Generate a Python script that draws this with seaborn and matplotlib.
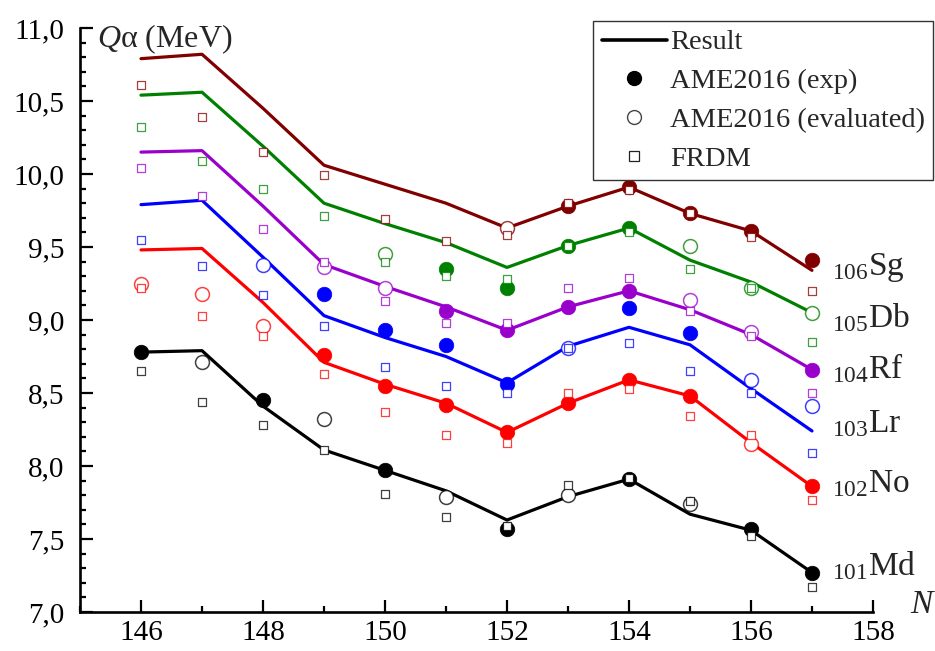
import numpy as np
import pandas as pd
import matplotlib
matplotlib.use('Agg')
import matplotlib.pyplot as plt
from matplotlib.lines import Line2D
from matplotlib.ticker import MultipleLocator, FuncFormatter
import seaborn as sns

# neutron numbers
N = list(range(146, 158))
elements = ['Md', 'No', 'Lr', 'Rf', 'Db', 'Sg']
Z = [101, 102, 103, 104, 105, 106]
colors = ['#000000', '#ff0000', '#0000ff', '#9900cc', '#008000', '#800000']

nan = np.nan
# Q-alpha (MeV), calculated result
result = {
    'Md': [8.78, 8.79, 8.41, 8.11, 7.97, 7.83, 7.63, 7.79, 7.91, 7.67, 7.56, 7.27],
    'No': [9.48, 9.49, 9.12, 8.71, 8.56, 8.43, 8.23, 8.43, 8.59, 8.48, 8.16, 7.86],
    'Lr': [9.79, 9.82, 9.43, 9.03, 8.88, 8.75, 8.57, 8.82, 8.95, 8.83, 8.53, 8.24],
    'Rf': [10.15, 10.16, 9.78, 9.38, 9.23, 9.09, 8.93, 9.09, 9.20, 9.07, 8.90, 8.66],
    'Db': [10.54, 10.56, 10.19, 9.80, 9.66, 9.53, 9.36, 9.51, 9.63, 9.41, 9.26, 9.05],
    'Sg': [10.79, 10.82, 10.45, 10.06, 9.93, 9.80, 9.63, 9.78, 9.91, 9.73, 9.61, 9.34],
}
# AME2016 experimental
exp = {
    'Md': [8.78, nan, 8.45, nan, 7.97, nan, 7.57, nan, 7.91, nan, 7.57, 7.27],
    'No': [nan, nan, nan, 8.76, 8.55, 8.42, 8.23, 8.43, 8.59, 8.48, nan, 7.86],
    'Lr': [nan, nan, nan, 9.18, 8.93, 8.83, 8.56, nan, 9.08, 8.91, nan, nan],
    'Rf': [nan, nan, nan, nan, nan, 9.06, 8.93, 9.09, 9.20, nan, nan, 8.66],
    'Db': [nan, nan, nan, nan, nan, 9.35, 9.22, 9.51, 9.63, nan, nan, nan],
    'Sg': [nan, nan, nan, nan, nan, nan, nan, 9.78, 9.91, 9.73, 9.61, 9.41],
}
# AME2016 evaluated
evaluated = {
    'Md': [nan, 8.71, nan, 8.32, nan, 7.79, nan, 7.80, nan, 7.74, nan, nan],
    'No': [9.25, 9.18, 8.96, nan, nan, nan, nan, nan, nan, nan, 8.15, nan],
    'Lr': [nan, nan, 9.38, nan, nan, nan, nan, 8.81, nan, nan, 8.59, 8.41],
    'Rf': [nan, nan, nan, 9.36, 9.22, nan, nan, nan, nan, 9.14, 8.92, nan],
    'Db': [nan, nan, nan, nan, 9.45, nan, nan, nan, nan, 9.51, 9.22, 9.05],
    'Sg': [nan, nan, nan, nan, nan, nan, 9.63, nan, nan, nan, nan, nan],
}
# FRDM
frdm = {
    'Md': [8.65, 8.44, 8.28, 8.11, 7.81, 7.65, 7.59, 7.87, 7.92, 7.76, 7.52, 7.17],
    'No': [9.22, 9.03, 8.89, 8.63, 8.37, 8.21, 8.16, 8.50, 8.53, 8.34, 8.21, 7.77],
    'Lr': [9.55, 9.37, 9.17, 8.96, 8.68, 8.55, 8.50, 8.81, 8.84, 8.65, 8.50, 8.09],
    'Rf': [10.04, 9.85, 9.62, 9.40, 9.13, 8.98, 8.98, 9.22, 9.29, 9.06, 8.89, 8.50],
    'Db': [10.32, 10.09, 9.90, 9.71, 9.40, 9.30, 9.28, 9.51, 9.60, 9.35, 9.22, 8.85],
    'Sg': [10.61, 10.39, 10.15, 9.99, 9.69, 9.54, 9.58, 9.80, 9.89, 9.73, 9.57, 9.20],
}
# baseline heights of the element labels
label_y = [7.25, 7.82, 8.23, 8.60, 8.95, 9.31]

sns.set_style('white')
plt.rcParams['font.family'] = ['Liberation Serif', 'DejaVu Serif']
plt.rcParams['mathtext.fontset'] = 'custom'
plt.rcParams['mathtext.rm'] = 'Liberation Serif'
plt.rcParams['mathtext.it'] = 'Liberation Serif:italic'

fig = plt.figure(figsize=(9.35, 6.51), dpi=100)
ax = fig.add_axes([80/935, 1 - 612/651, (873 - 80)/935, (612 - 28)/651])

for el, c in zip(elements, colors):
    sns.lineplot(x=N, y=result[el], color=c, lw=2.3, ax=ax, zorder=2)
    sns.scatterplot(x=N, y=exp[el], color=c, marker='o', s=110,
                    edgecolor=c, linewidth=0.5, ax=ax, zorder=3)
    sns.scatterplot(x=N, y=evaluated[el], marker='o', s=100, facecolor='white',
                    edgecolor=matplotlib.colors.to_rgba(c, 0.75), linewidth=1.1,
                    ax=ax, zorder=4)
    sns.scatterplot(x=N, y=frdm[el], marker='s', s=40, facecolor='white',
                    edgecolor=matplotlib.colors.to_rgba(c, 0.75), linewidth=0.9,
                    ax=ax, zorder=5)

for el, z, yl in zip(elements, Z, label_y):
    ax.text(157.33, yl, r'$_{%d}$%s' % (z, el), fontsize=24, va='baseline',
            ha='left', clip_on=False)

ax.set_xlim(145, 158)
ax.set_ylim(7.0, 11.0)
ax.xaxis.set_major_locator(MultipleLocator(2))
ax.xaxis.set_minor_locator(MultipleLocator(1))
ax.yaxis.set_major_locator(MultipleLocator(0.5))
ax.yaxis.set_minor_locator(MultipleLocator(0.1))
ax.yaxis.set_major_formatter(FuncFormatter(lambda v, p: f'{v:.1f}'.replace('.', ',')))
ax.tick_params(which='both', direction='in', width=1.6, colors='black',
               labelsize=21, bottom=True, left=True)
ax.tick_params(which='major', length=9)
ax.tick_params(axis='y', which='major', pad=11)
ax.tick_params(axis='x', which='major', pad=6)
ax.tick_params(which='minor', length=4.5)
for s in ['top', 'right']:
    ax.spines[s].set_visible(False)
for s in ['left', 'bottom']:
    ax.spines[s].set_linewidth(1.9)
    ax.spines[s].set_color('black')
ax.set_xlabel('')
ax.set_ylabel('')

fig.text(97/935, 1 - 47/651, r'$Q$α (MeV)', fontsize=23, ha='left', va='baseline')
fig.text(910/935, 1 - 613/651, r'$N$', fontsize=24, ha='left', va='baseline')

handles = [
    Line2D([], [], color='black', lw=2.6),
    Line2D([], [], color='black', marker='o', ls='none', markersize=10),
    Line2D([], [], marker='o', ls='none', markersize=10, markerfacecolor='white',
           markeredgecolor='#444444', markeredgewidth=1.0),
    Line2D([], [], marker='s', ls='none', markersize=6.5, markerfacecolor='white',
           markeredgecolor='#222222', markeredgewidth=0.9),
]
labels = ['Result', 'AME2016 (exp)', 'AME2016 (evaluated)', 'FRDM']
leg = ax.legend(handles, labels, loc='upper left', bbox_to_anchor=(593/935, 1 - 21/651),
                bbox_transform=fig.transFigure, borderaxespad=0, fontsize=20.5,
                frameon=True, fancybox=False, framealpha=1, edgecolor='#333333',
                handlelength=2.3, handletextpad=0.1, labelspacing=0.45, borderpad=0.3)
leg.get_frame().set_linewidth(1.0)

fig.savefig('out.png', dpi=100)
